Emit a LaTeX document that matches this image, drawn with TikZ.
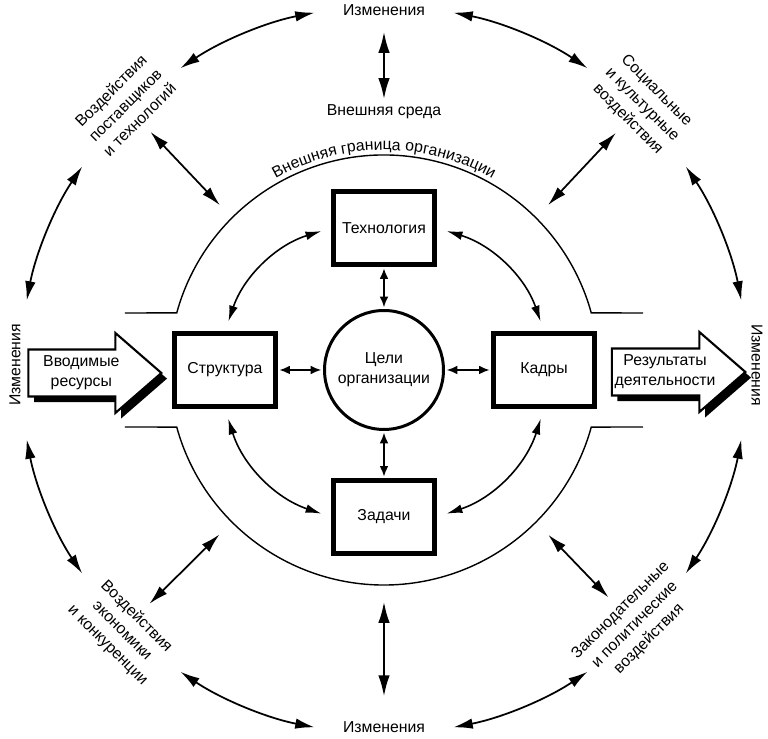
\documentclass[tikz,border=0pt]{standalone}
\usepackage{fontspec}
\setmainfont{Liberation Sans}
\usetikzlibrary{arrows.meta,shapes.arrows,shadows,decorations.text}
\newcommand{\lblfont}{\fontsize{9}{11.5}\selectfont}
\tikzset{
  lbl/.style={font=\lblfont, align=center, inner sep=1pt},
  box/.style={lbl, draw, line width=2.4pt, minimum width=2.02cm, minimum height=1.46cm},
  goalnode/.style={lbl, circle, draw, line width=1.7pt, minimum size=2.38cm},
  flow/.style={lbl, single arrow, draw, fill=white, line width=1.2pt,
    single arrow head extend=0.28cm, single arrow tip angle=82, single arrow head indent=0pt,
    minimum height=2.66cm, minimum width=1.6cm,
    drop shadow={shadow xshift=3.2pt, shadow yshift=-3.2pt, fill=black, opacity=1}},
  link/.style={<->, >={Latex[length=6pt,width=5pt]}, line width=1pt, shorten <=1pt, shorten >=1pt},
  bend link/.style={<->, >={Latex[length=9pt,width=5pt]}, line width=0.9pt, shorten <=6pt, shorten >=6pt},
  outer/.style={<->, >={Latex[length=11pt,width=6pt]}, line width=1pt},
  vert/.style={<->, >={Latex[length=12pt,width=6.5pt]}, line width=1.3pt},
  bound/.style={line width=0.8pt}
}

\begin{document}
\begin{tikzpicture}[x=0.02cm, y=0.02cm]
    \useasboundingbox (-384,-369) rectangle (384,370);

    % organisation
    \node [goalnode] (goal) at (0,0) {Цели\\организации};
    \node [box] (tech) at (0,142) {Технология};
    \node [box] (tasks) at (0,-147) {Задачи};
    \node [box] (struct) at (-159,0) {Структура};
    \node [box] (staff) at (160,0) {Кадры};

    \draw [link] (tech) -- (goal);
    \draw [link] (tasks) -- (goal);
    \draw [link] (struct) -- (goal);
    \draw [link] (staff) -- (goal);

    \draw [bend link] (tech.west) to [bend right=27] (struct.north);
    \draw [bend link] (tech.east) to [bend left=27] (staff.north);
    \draw [bend link] (struct.south) to [bend right=27] (tasks.west);
    \draw [bend link] (staff.south) to [bend left=27] (tasks.east);

    % boundary of the organisation
    \draw [bound] (-259,57) -- (164.6:215) arc [start angle=164.6, end angle=15.4, radius=215] -- (259,57);
    \draw [bound] (-259,-57) -- (195.4:215) arc [start angle=195.4, end angle=344.6, radius=215] -- (259,-57);
    \path [decorate, decoration={text along path, text align=center,
        text={|\lblfont|Внешняя граница организации}}]
        (122:220) arc [start angle=122, end angle=58, radius=220];

    % inputs and outputs
    \node [flow, anchor=tip] (input) at (-221,-3) {Вводимые\\ресурсы};
    \node [flow, anchor=tip] (output) at (363,-2) {Результаты\\деятельности};

    % environment
    \node [lbl] (chg-n) at (0,360) {Изменения};
    \node [lbl] (chg-s) at (0,-357) {Изменения};
    \node [lbl, rotate=90] (chg-w) at (-369,5) {Изменения};
    \node [lbl, rotate=-90] (chg-e) at (373,5) {Изменения};
    \node [lbl] (env) at (0,258) {Внешняя среда};

    \node [lbl, rotate=45] (inf-nw) at (-259,265) {Воздействия\\поставщиков\\и технологий};
    \node [lbl, rotate=-45] (inf-ne) at (258,265) {Социальные\\и культурные\\воздействия};
    \node [lbl, rotate=-45] (inf-sw) at (-262,-261) {Воздействия\\экономики\\и конкуренции};
    \node [lbl, rotate=45] (inf-se) at (251,-255) {Законодательные\\и политические\\воздействия};

    \coordinate (edge-s) at (0,-215);
    \draw [vert, shorten <=8pt, shorten >=2pt] (chg-n) -- (env);
    \draw [vert, shorten <=9.5pt, shorten >=13pt] (edge-s) -- (chg-s);

    \foreach \d/\n in {45/ne, 135/nw, 225/sw, 315/se} {
        \coordinate (edge-\n) at (\d:215);
        \draw [outer, shorten <=10pt, shorten >=5pt] (edge-\n) -- (inf-\n);
    }

    \foreach \a in {0,45,...,315}
        \draw [outer] ([shift={({\a+11}:364)}]goal.center) arc [start angle=\a+11, end angle=\a+34, radius=364];

\end{tikzpicture}
\end{document}
